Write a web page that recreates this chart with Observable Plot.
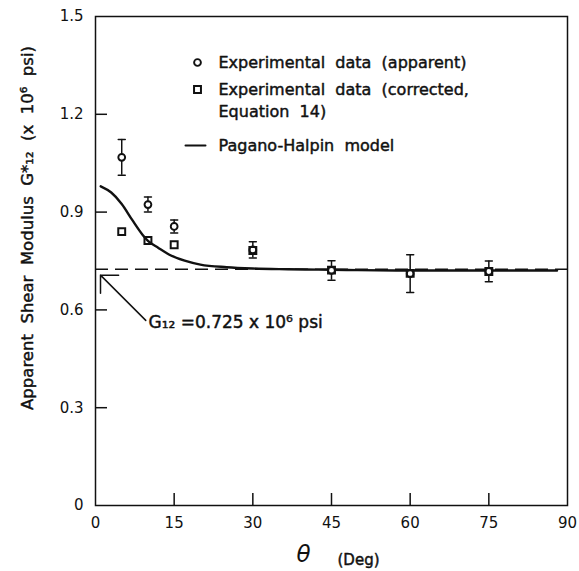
<!DOCTYPE html>
<html><head><meta charset="utf-8">
<script src="https://cdn.jsdelivr.net/npm/d3@7"></script>
<script src="https://cdn.jsdelivr.net/npm/@observablehq/plot@0.6"></script>
<style>body{margin:0;background:#fff}</style>
</head><body><div id="chart"></div>
<script>
// ---- data ----
const thetaExp = [5, 10, 15, 30, 45, 60, 75];
const gApparent = [1.068, 0.923, 0.856, 0.784, 0.721, 0.711, 0.718];
const errApparent = [0.055, 0.023, 0.020, 0.025, 0.030, 0.058, 0.032];
const gCorrected = [0.840, 0.813, 0.800, 0.782, 0.722, 0.712, 0.718];
const thetaModel = [1, 3, 5, 7, 9, 10, 12, 14, 17, 20, 25, 30, 35, 40, 45, 50, 60, 70, 80, 88];
const gModel = [0.979, 0.960, 0.925, 0.876, 0.830, 0.812, 0.790, 0.770, 0.751, 0.739, 0.731, 0.727, 0.725, 0.724, 0.723, 0.722, 0.721, 0.721, 0.721, 0.721];
const G12 = 0.725;
const xTicks = [0, 15, 30, 45, 60, 75, 90];
const yTicks = [0, 0.3, 0.6, 0.9, 1.2, 1.5];
const legendLabels = ["Experimental data (apparent)", "Experimental data (corrected,", "Equation 14)", "Pagano-Halpin model"];
const yLabel = "Apparent Shear Modulus G*\u2081\u2082 (x 10\u2076 psi)";
const annotation = "G\u2081\u2082 =0.725 x 10\u2076 psi";

// ---- tables ----
const expData = thetaExp.map((t, i) => ({theta: t, g: gApparent[i], lo: gApparent[i] - errApparent[i], hi: gApparent[i] + errApparent[i], gc: gCorrected[i]}));
const model = thetaModel.map((t, i) => ({theta: t, g: gModel[i]}));
const wide = s => s.replace(/ /g, "\u00a0\u00a0");

const W = 579, H = 571, mL = 95, mR = 12, mT = 16, mB = 66;
const plotW = W - mL - mR, plotH = H - mT - mB;
const ink = "#111";
const lineShape = {draw(context, l) { context.moveTo(0, 0); context.lineTo(0, -l); }};
const heavy = {stroke: ink, strokeWidth: 0.45, fill: ink};

const legendDy = [46, 73, 95, 129];

const chart = Plot.plot({
  width: W, height: H,
  marginLeft: mL, marginRight: mR, marginTop: mT, marginBottom: mB,
  style: {fontFamily: "DejaVu Sans", fontSize: "15px", color: ink, background: "white"},
  x: {domain: [0, 90]},
  y: {domain: [0, 1.5]},
  marks: [
    Plot.ruleY([G12], {y: d => d, stroke: ink, strokeWidth: 1.5, strokeDasharray: "13,7"}),
    Plot.line(model, {x: "theta", y: "g", curve: "monotone-x", stroke: ink, strokeWidth: 2.4}),
    Plot.ruleX(expData, {x: "theta", y1: "lo", y2: "hi", stroke: ink, strokeWidth: 1.5}),
    Plot.vector(expData, {x: "theta", y: "hi", length: 7, rotate: 90, anchor: "middle", shape: lineShape, stroke: ink, strokeWidth: 1.5}),
    Plot.vector(expData, {x: "theta", y: "lo", length: 7, rotate: 90, anchor: "middle", shape: lineShape, stroke: ink, strokeWidth: 1.5}),
    Plot.dot(expData, {x: "theta", y: "g", r: 3.4, symbol: "circle", stroke: ink, strokeWidth: 1.9, fill: "white"}),
    Plot.dot(expData, {x: "theta", y: "gc", r: 3.9, symbol: "square", stroke: ink, strokeWidth: 2, fill: "none"}),
    // inner ticks
    Plot.tickY(yTicks.slice(1, -1), {y: d => d, insetRight: plotW - 12, stroke: ink, strokeWidth: 1.5}),
    Plot.tickX(xTicks.slice(1, -1), {x: d => d, insetTop: plotH - 12, stroke: ink, strokeWidth: 1.5}),
    Plot.frame({stroke: ink, strokeWidth: 1.5}),
    Plot.axisX({ticks: xTicks, tickSize: 0, tickPadding: 12, fontSize: 15, label: null, ...heavy, strokeWidth: 0.3}),
    Plot.axisY({ticks: yTicks, tickSize: 0, tickPadding: 12, fontSize: 15, label: null, tickFormat: d => d === 0 ? "0" : d.toFixed(1), ...heavy, strokeWidth: 0.3}),
    // axis titles
    Plot.text([yLabel], {text: d => wide(d), frameAnchor: "left", dx: -68, dy: -33, rotate: -90, textAnchor: "middle", lineAnchor: "middle", fontSize: 16.5, ...heavy}),
    Plot.text(["\u03b8"], {frameAnchor: "bottom", dx: -28, dy: 49, textAnchor: "middle", lineAnchor: "middle", fontSize: 23, fontStyle: "italic", fill: ink}),
    Plot.text(["(Deg)"], {frameAnchor: "bottom", dx: 6, dy: 55, textAnchor: "start", lineAnchor: "middle", fontSize: 15, ...heavy}),
    // legend
    Plot.dot([legendLabels[0]], {frameAnchor: "top-left", dx: 102, dy: legendDy[0], r: 3.4, symbol: "circle", stroke: ink, strokeWidth: 1.9, fill: "white"}),
    Plot.dot([legendLabels[1]], {frameAnchor: "top-left", dx: 102, dy: legendDy[1], r: 3.9, symbol: "square", stroke: ink, strokeWidth: 2, fill: "none"}),
    Plot.vector([legendLabels[3]], {frameAnchor: "top-left", dx: 90, dy: legendDy[3], length: 20, rotate: 90, anchor: "start", shape: lineShape, stroke: ink, strokeWidth: 2}),
    Plot.text([legendLabels[0]], {text: d => wide(d), frameAnchor: "top-left", dx: 123, dy: legendDy[0], textAnchor: "start", lineAnchor: "middle", fontSize: 16, ...heavy}),
    Plot.text([legendLabels[1]], {text: d => wide(d), frameAnchor: "top-left", dx: 123, dy: legendDy[1], textAnchor: "start", lineAnchor: "middle", fontSize: 16, ...heavy}),
    Plot.text([legendLabels[2]], {text: d => wide(d), frameAnchor: "top-left", dx: 123, dy: legendDy[2], textAnchor: "start", lineAnchor: "middle", fontSize: 16, ...heavy}),
    Plot.text([legendLabels[3]], {text: d => wide(d), frameAnchor: "top-left", dx: 123, dy: legendDy[3], textAnchor: "start", lineAnchor: "middle", fontSize: 16, ...heavy}),
    // annotation
    Plot.vector([G12], {x: () => 0, y: d => d, rotate: -45, length: 64, anchor: "end", dx: 5, dy: 6, shape: "arrow", stroke: ink, strokeWidth: 1.5}),
    Plot.text([annotation], {x: () => 0, y: () => G12, dx: 53, dy: 53, textAnchor: "start", lineAnchor: "middle", fontSize: 17, ...heavy})
  ]
});
document.getElementById("chart").appendChild(chart);
</script></body></html>
